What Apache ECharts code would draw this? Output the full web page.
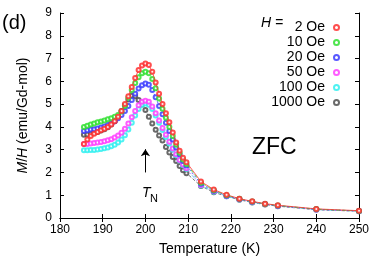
<!DOCTYPE html>
<html><head><meta charset="utf-8">
<script src="https://cdn.jsdelivr.net/npm/echarts@6/dist/echarts.min.js"></script>
<style>html,body{margin:0;padding:0;background:#fff}#c{width:374px;height:262px}</style>
</head><body><div id="c"></div>
<script>
// Temperature grid (K)
const temps = [185.6,186.4,187.2,188.0,188.8,189.6,190.4,191.2,192.0,192.8,193.6,194.4,195.2,196.0,196.8,197.6,198.4,199.2,200.0,200.8,201.6,202.4,203.2,204.0,204.8,205.6,206.4,207.2,208.0,208.8,209.6,213,216,219,222,225,228,231,240,250];
// M/H (emu/Gd-mol) for each field
const h2 = [3.25,3.45,3.60,3.70,3.78,3.85,3.92,4.00,4.10,4.25,4.45,4.70,5.00,5.35,5.75,6.15,6.50,6.70,6.78,6.72,6.42,5.95,5.45,5.00,4.60,4.20,3.75,3.32,2.95,2.65,2.45,1.60,1.25,1.02,0.85,0.73,0.63,0.56,0.40,0.32];
const h10 = [4.00,4.05,4.10,4.15,4.20,4.24,4.28,4.33,4.38,4.44,4.52,4.68,4.92,5.28,5.62,5.93,6.18,6.36,6.42,6.35,6.10,5.70,5.25,4.80,4.40,4.00,3.60,3.22,2.87,2.57,2.37,1.55,1.22,1.00,0.84,0.72,0.62,0.55,0.39,0.31];
const h20 = [3.82,3.85,3.88,3.90,3.93,3.97,4.02,4.08,4.15,4.25,4.38,4.52,4.70,4.92,5.18,5.45,5.68,5.83,5.90,5.85,5.62,5.30,4.92,4.55,4.18,3.82,3.45,3.10,2.80,2.50,2.30,1.50,1.20,0.98,0.83,0.71,0.61,0.54,0.38,0.31];
const h50 = [3.25,3.25,3.27,3.29,3.31,3.34,3.37,3.41,3.46,3.53,3.62,3.74,3.92,4.15,4.42,4.70,4.95,5.10,5.15,5.10,4.90,4.60,4.28,3.95,3.65,3.35,3.05,2.80,2.55,2.35,2.18,1.45,1.17,0.97,0.82,0.70,0.60,0.53,0.37,0.30];
const h100 = [2.97,2.97,2.98,2.99,3.01,3.03,3.06,3.10,3.15,3.22,3.32,3.45,3.63,3.88,4.18,4.50,4.78,4.97,5.03,4.97,4.78,4.50,4.18,3.86,3.56,3.27,3.00,2.75,2.52,2.32,2.15,1.43,1.15,0.96,0.81,0.69,0.60,0.53,0.37,0.30];
const h1000 = [3.65,3.67,3.70,3.74,3.78,3.84,3.90,3.98,4.10,4.25,4.45,4.70,4.95,5.20,5.37,5.35,5.18,4.98,4.74,4.45,4.15,3.87,3.62,3.40,3.12,2.88,2.68,2.50,2.28,2.10,1.97,1.40,1.13,0.95,0.80,0.68,0.59,0.52,0.36,0.30];
const seriesNames = ['2 Oe','10 Oe','20 Oe','50 Oe','100 Oe','1000 Oe'];
const seriesColors = ['#ff3030','#30e030','#3c3cff','#ff40ff','#30f0f0','#505050'];
const seriesDash = ['solid',[4,2],[2,2],[1,2],[4,2,1,2],[3,2]];
const xTicks = [180,190,200,210,220,230,240,250];
const yTicks = [0,1,2,3,4,5,6,7,8,9];

const allData = [h2,h10,h20,h50,h100,h1000];
const chart = echarts.init(document.getElementById('c'));
const axisCommon = {
  axisLine:{show:true,lineStyle:{color:'#000',width:1}},
  axisTick:{show:true,inside:true,length:4,lineStyle:{color:'#000'}},
  splitLine:{show:false}
};
const series = allData.map((d,i)=>({
  name: seriesNames[i], type:'line',
  data: d.map((v,j)=>[temps[j],v]),
  symbol:'emptyCircle', symbolSize:4,
  itemStyle:{color:seriesColors[i],borderWidth:0.8,opacity:0.85},
  lineStyle:{color:seriesColors[i],width:0.8,type:seriesDash[i]},
  z: 10-i, animation:false
}));
series[0].markLine = {
  silent:true, symbol:['none','arrow'], symbolSize:7,
  lineStyle:{color:'#000',width:1,type:'solid'}, label:{show:false},
  data:[[{coord:[200,2.0]},{coord:[200,3.02]}]]
};
chart.setOption({
  animation:false,
  grid:{left:60,right:15,top:13,bottom:44},
  xAxis:[{type:'value',min:180,max:250,interval:10,position:'bottom',...axisCommon,
    axisLabel:{color:'#000',fontSize:12,fontFamily:'Liberation Sans',margin:6},
    name:'Temperature (K)',nameLocation:'middle',nameGap:24,
    nameTextStyle:{color:'#000',fontSize:14,fontFamily:'Liberation Sans'}},
   {type:'value',min:180,max:250,interval:10,position:'top',...axisCommon,axisLabel:{show:false}}],
  yAxis:[{type:'value',min:0,max:9,interval:1,position:'left',...axisCommon,
    axisLabel:{color:'#000',fontSize:12,fontFamily:'Liberation Sans',margin:8},
    name:'{i|M}/{i|H} (emu/Gd-mol)',nameLocation:'middle',nameGap:30,
    nameTextStyle:{color:'#000',fontSize:14,fontFamily:'Liberation Sans',
      rich:{i:{fontStyle:'italic',fontSize:14,fontFamily:'Liberation Sans',color:'#000'}}}},
   {type:'value',min:0,max:9,interval:1,position:'right',...axisCommon,axisLabel:{show:false}}],
  legend:{orient:'vertical',right:29,top:15,align:'right',itemGap:0,
    itemWidth:5,itemHeight:5,icon:'emptyCircle',
    data:seriesNames,
    textStyle:{color:'#000',fontSize:14,fontFamily:'Liberation Sans',width:54,align:'right',lineHeight:15,padding:[0,4,0,0]}},
  graphic:[
    {type:'text',left:2,top:13,style:{text:'(d)',font:'20px Liberation Sans',fill:'#000'}},
    {type:'text',left:261,top:16,style:{text:'H =',font:'italic 14px Liberation Sans',fill:'#000'}},
    {type:'text',left:252,top:136,style:{text:'ZFC',font:'23px Liberation Sans',fill:'#000'}},
    {type:'text',left:142,top:186,style:{text:'T',font:'italic 14px Liberation Sans',fill:'#000'}},
    {type:'text',left:150,top:193,style:{text:'N',font:'11px Liberation Sans',fill:'#000'}}
  ],
  series: series
});
</script></body></html>
